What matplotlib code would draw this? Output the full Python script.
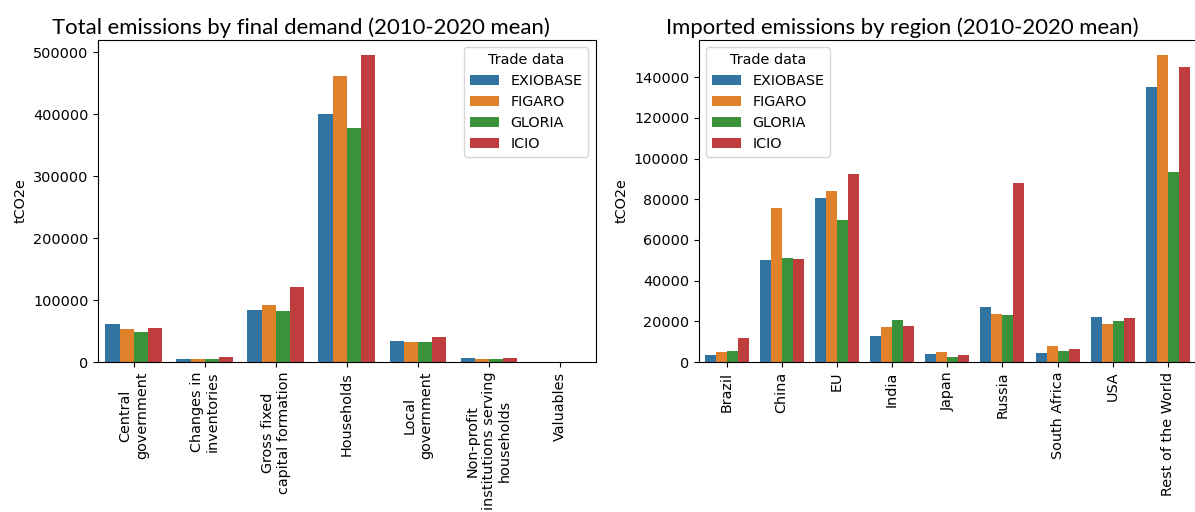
import numpy as np
import matplotlib
matplotlib.use("Agg")
import matplotlib.pyplot as plt
import colorsys
import matplotlib.colors as mcolors

datasets = ["EXIOBASE", "FIGARO", "GLORIA", "ICIO"]

fd_categories = ["Central\ngovernment", "Changes in\ninventories",
                 "Gross fixed\ncapital formation", "Households",
                 "Local\ngovernment", "Non-profit\ninstitutions serving\nhouseholds",
                 "Valuables"]
fd_exiobase = [61500, 4400, 84600, 401000, 34500, 6000, 300]
fd_figaro = [53400, 4800, 92200, 462000, 32400, 4800, 100]
fd_gloria = [48500, 4400, 82500, 378000, 31800, 4800, 100]
fd_icio = [55000, 8000, 121800, 496000, 40500, 6000, 200]

regions = ["Brazil", "China", "EU", "India", "Japan", "Russia",
           "South Africa", "USA", "Rest of the World"]
reg_exiobase = [3450, 50000, 80500, 12900, 4100, 27000, 4400, 22100, 135000]
reg_figaro = [4900, 75500, 84000, 17400, 4900, 23600, 7900, 18800, 151000]
reg_gloria = [5550, 51000, 70000, 20800, 2450, 22900, 5250, 20000, 93500]
reg_icio = [11950, 50500, 92200, 17500, 3450, 88000, 6250, 21500, 145000]

base_colors = ["#1f77b4", "#ff7f0e", "#2ca02c", "#d62728"]

def desat(c, prop=0.75):
    r, g, b = mcolors.to_rgb(c)
    h, l, s = colorsys.rgb_to_hls(r, g, b)
    return colorsys.hls_to_rgb(h, l, s * prop)

colors = [desat(c) for c in base_colors]

W, H = 1195, 512
fig = plt.figure(figsize=(W / 100, H / 100), dpi=100)
ax1 = fig.add_axes([98.3 / W, 1 - 362 / H, (595.5 - 98.3) / W, (362 - 39.5) / H])
ax2 = fig.add_axes([699 / W, 1 - 362 / H, (1195.5 - 699) / W, (362 - 39.5) / H])

title_font = ["Lato", "DejaVu Sans"]
fs = 10.4

def draw(ax, cats, series, title, legend_loc, title_x):
    x = np.arange(len(cats))
    n = len(series)
    w = 0.8 / n
    for i, (vals, name) in enumerate(zip(series, datasets)):
        ax.bar(x - 0.4 + w * (i + 0.5), vals, width=w, color=colors[i], label=name,
               linewidth=0)
    ax.set_xticks(x)
    ax.set_xticklabels(cats, rotation=90, fontsize=fs)
    ax.set_xlim(-0.5, len(cats) - 0.5)
    ax.set_ylabel("tCO2e", fontsize=fs)
    ax.tick_params(axis="y", labelsize=fs)
    ax.set_title(title, fontsize=15.9, family=title_font, pad=4, x=title_x)
    ax.legend(title="Trade data", loc=legend_loc, fontsize=fs, title_fontsize=fs)

draw(ax1, fd_categories, [fd_exiobase, fd_figaro, fd_gloria, fd_icio],
     "Total emissions by final demand (2010-2020 mean)", "upper right", 0.408)
draw(ax2, regions, [reg_exiobase, reg_figaro, reg_gloria, reg_icio],
     "Imported emissions by region (2010-2020 mean)", "upper left", 0.409)

fig.savefig("out.png", dpi=100)
